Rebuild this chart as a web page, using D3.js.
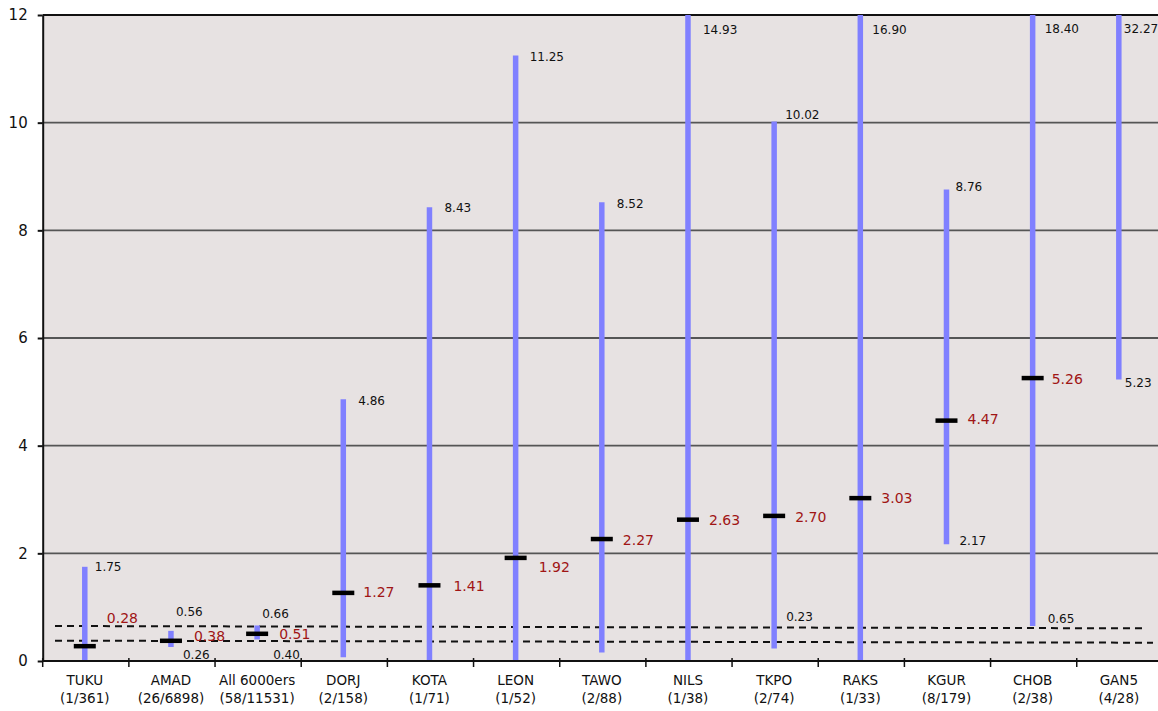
<!DOCTYPE html>
<html><head><meta charset="utf-8">
<script src="https://cdn.jsdelivr.net/npm/d3@7"></script>
<style>body{margin:0;background:#fff}svg{display:block}text{font-family:"DejaVu Sans",Verdana,sans-serif}</style>
</head><body><svg id="c" width="1158" height="711"></svg>
<script>
const categories = ["TUKU","AMAD","All 6000ers","DORJ","KOTA","LEON","TAWO","NILS","TKPO","RAKS","KGUR","CHOB","GAN5"];
const counts = ["(1/361)","(26/6898)","(58/11531)","(2/158)","(1/71)","(1/52)","(2/88)","(1/38)","(2/74)","(1/33)","(8/179)","(2/38)","(4/28)"];
const means = [0.28,0.38,0.51,1.27,1.41,1.92,2.27,2.63,2.70,3.03,4.47,5.26,null];
const lows  = [0,0.26,0.40,0.07,0,0,0.16,0,0.23,0,2.17,0.65,5.23];
const highs = [1.75,0.56,0.66,4.86,8.43,11.25,8.52,14.93,10.02,16.90,8.76,18.40,32.27];
const showLowLabel = [false,true,true,false,false,false,false,false,true,false,true,true,true];
const yTicks = [0,2,4,6,8,10,12];
// reference lines: [value at left end, value at right end]
const refUpper = [0.65,0.607];
const refLower = [0.377,0.34];

// layout nudges for labels (pixels): [dx, dy]
const hiNudge  = [[10,0],[5,-19],[5,-12],[15,1],[15,1],[14,1],[15,1],[15,15],[11,-7],[12,15],[9,-3],[12,14],[5,14]];
const loNudge  = [null,[12,8],[16,15],null,null,null,null,null,[12,-32],null,[13,-3],[15,-7],[6,3]];
const meanNudge= [[22,-28],[23,-4],[22,1],[20,-1],[24,1],[23,9],[21,1],[21,1],[21,1],[21,0],[21,-1],[19,1],null];

const svg = d3.select("#c");
const x0 = 42.7, bw = 86.17;
const x = d3.scaleBand().domain(categories).range([x0, x0 + bw*categories.length]).paddingInner(0).paddingOuter(0);
const y = d3.scaleLinear().domain([0,12]).range([661,15]);
const W = x.range()[1];

svg.append("rect").attr("x",x0).attr("y",y(12)).attr("width",W-x0).attr("height",y(0)-y(12)).attr("fill","#e7e2e2");

// grid
svg.append("g").selectAll("line").data(yTicks.filter(d=>d>0&&d<12)).join("line")
  .attr("x1",x0).attr("x2",W).attr("y1",d=>y(d)).attr("y2",d=>y(d))
  .attr("stroke","#555").attr("stroke-width",1.8);
svg.append("line").attr("x1",x0).attr("x2",W).attr("y1",y(12)).attr("y2",y(12)).attr("stroke","#111").attr("stroke-width",2);

// y axis
const ya = svg.append("g").attr("transform",`translate(${x0},0)`)
  .call(d3.axisLeft(y).tickValues(yTicks).tickSizeInner(5).tickSizeOuter(0).tickPadding(10).tickFormat(d3.format("d")));
ya.select(".domain").attr("stroke","#111").attr("stroke-width",2);
ya.selectAll(".tick line").attr("stroke","#111").attr("stroke-width",2);
ya.selectAll("text").attr("font-size",15).attr("fill","#111").style("font-family","DejaVu Sans");

// dashed reference lines
[[refUpper,55,1145],[refLower,55,1153]].forEach(([v,a,b])=>{
  svg.append("line").attr("x1",a).attr("x2",b).attr("y1",y(v[0])).attr("y2",y(v[1]))
    .attr("stroke","#111").attr("stroke-width",2).attr("stroke-dasharray","7,5");
});

const cx = i => x(categories[i]) + bw/2 - 1;
const clip = v => Math.min(v,12);

// CI bars
svg.append("g").selectAll("line").data(categories).join("line")
  .attr("x1",(d,i)=>cx(i)).attr("x2",(d,i)=>cx(i))
  .attr("y1",(d,i)=>y(lows[i])).attr("y2",(d,i)=>y(clip(highs[i])))
  .attr("stroke","#8080ff").attr("stroke-width",5.5);

// mean markers
svg.append("g").selectAll("rect").data(categories.map((c,i)=>i).filter(i=>means[i]!=null)).join("rect")
  .attr("x",i=>cx(i)-11).attr("y",i=>y(means[i])-2).attr("width",22).attr("height",4.5).attr("fill","#000");

// x axis
svg.append("line").attr("x1",x0).attr("x2",W).attr("y1",y(0)).attr("y2",y(0)).attr("stroke","#111").attr("stroke-width",2);
svg.append("g").selectAll("line").data(d3.range(categories.length+1)).join("line")
  .attr("x1",i=>x0+i*bw).attr("x2",i=>x0+i*bw).attr("y1",y(0)-3).attr("y2",y(0)+6)
  .attr("stroke","#111").attr("stroke-width",1.5);

// category labels
const cl = svg.append("g").selectAll("text").data(categories).join("text")
  .attr("x",(d,i)=>cx(i)).attr("y",685).attr("text-anchor","middle").attr("font-size",13.5).attr("fill","#111");
cl.append("tspan").attr("x",(d,i)=>cx(i)).text(d=>d);
cl.append("tspan").attr("x",(d,i)=>cx(i)).attr("dy",18).text((d,i)=>counts[i]);

// value labels
const lab = svg.append("g");
categories.forEach((c,i)=>{
  const hn = hiNudge[i];
  lab.append("text").attr("x",cx(i)+hn[0]).attr("y",y(clip(highs[i]))+hn[1]).attr("dy","0.35em")
    .attr("font-size",12).attr("fill","#111").text(highs[i].toFixed(2));
  if (showLowLabel[i] && loNudge[i]) {
    const ln = loNudge[i];
    lab.append("text").attr("x",cx(i)+ln[0]).attr("y",y(lows[i])+ln[1]).attr("dy","0.35em")
      .attr("font-size",12).attr("fill","#111").text(lows[i].toFixed(2));
  }
  if (means[i]!=null) {
    const mn = meanNudge[i];
    lab.append("text").attr("x",cx(i)+mn[0]).attr("y",y(means[i])+mn[1]).attr("dy","0.35em")
      .attr("font-size",14).attr("fill","#a01515").text(means[i].toFixed(2));
  }
});
</script></body></html>
